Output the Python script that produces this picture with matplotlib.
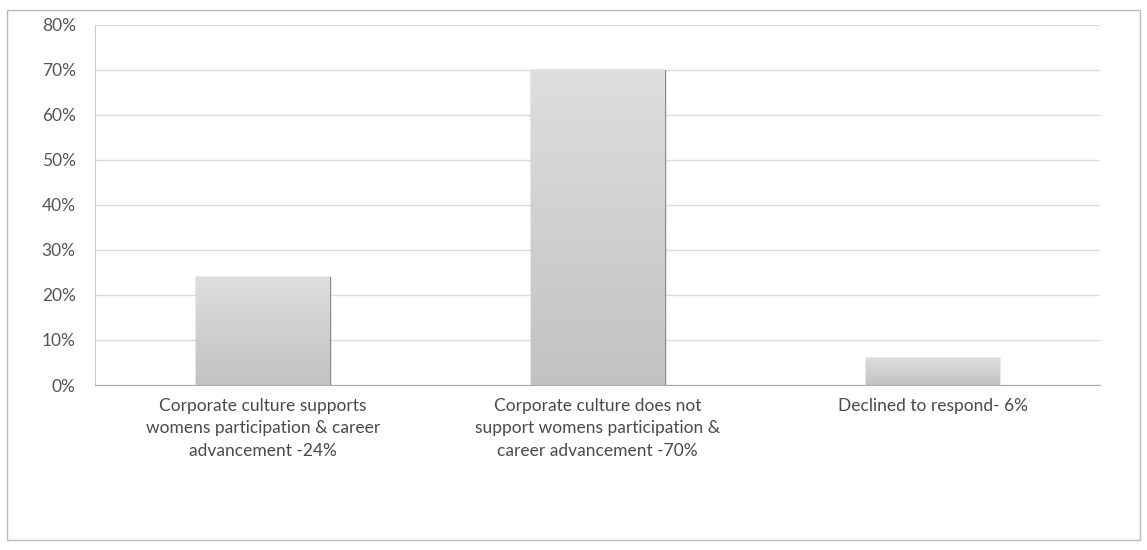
import numpy as np
import matplotlib
matplotlib.use("Agg")
import matplotlib.pyplot as plt
from matplotlib.patches import Rectangle
from matplotlib.colors import LinearSegmentedColormap

categories = [
    "Corporate culture supports\nwomens participation & career\nadvancement -24%",
    "Corporate culture does not\nsupport womens participation &\ncareer advancement -70%",
    "Declined to respond- 6%",
]
values = [24, 70, 6]
yticks = [0, 10, 20, 30, 40, 50, 60, 70, 80]
ytick_labels = [f"{v}%" for v in yticks]

plt.rcParams["font.family"] = ["Lato", "DejaVu Sans"]

fig = plt.figure(figsize=(11.47, 5.5), dpi=100)
ax = fig.add_axes([0.083, 0.3, 0.876, 0.655])

x = np.arange(len(categories))
bars = ax.bar(x, values, width=0.4, color="#cdcdcd", edgecolor="#8a8a8a", linewidth=1.0, zorder=2)

# soft vertical gradient on each bar
grad = np.linspace(0, 1, 100).reshape(-1, 1)
cmap = LinearSegmentedColormap.from_list("g", ["#c2c2c2", "#dedede"])
for b in bars:
    bx, by, bw, bh = b.get_x(), b.get_y(), b.get_width(), b.get_height()
    im = ax.imshow(grad, extent=[bx, bx + bw, by, by + bh], origin="lower",
                   cmap=cmap, aspect="auto", zorder=2.5)
    im.set_clip_path(b)

ax.set_xlim(-0.5, 2.5)
ax.set_ylim(0, 80)
ax.set_yticks(yticks)
ax.set_yticklabels(ytick_labels, fontsize=12.5, color="#555555")
ax.set_xticks(x)
ax.set_xticklabels(categories, fontsize=12.5, color="#4a4a4a", linespacing=1.5)
ax.tick_params(axis="x", length=0, pad=9)
ax.tick_params(axis="y", length=0, pad=14)
ax.grid(axis="y", color="#dddddd", linewidth=1.0, zorder=0)
ax.set_axisbelow(True)

for s in ["top", "right"]:
    ax.spines[s].set_visible(False)
ax.spines["left"].set_color("#cccccc")
ax.spines["bottom"].set_color("#aaaaaa")

# outer chart border
fig.patches.append(Rectangle((7 / 1147, 10 / 550), 1133 / 1147, 530 / 550,
                             transform=fig.transFigure, fill=False,
                             edgecolor="#bbbbbb", linewidth=1.0))

fig.savefig("out.png", dpi=100)
